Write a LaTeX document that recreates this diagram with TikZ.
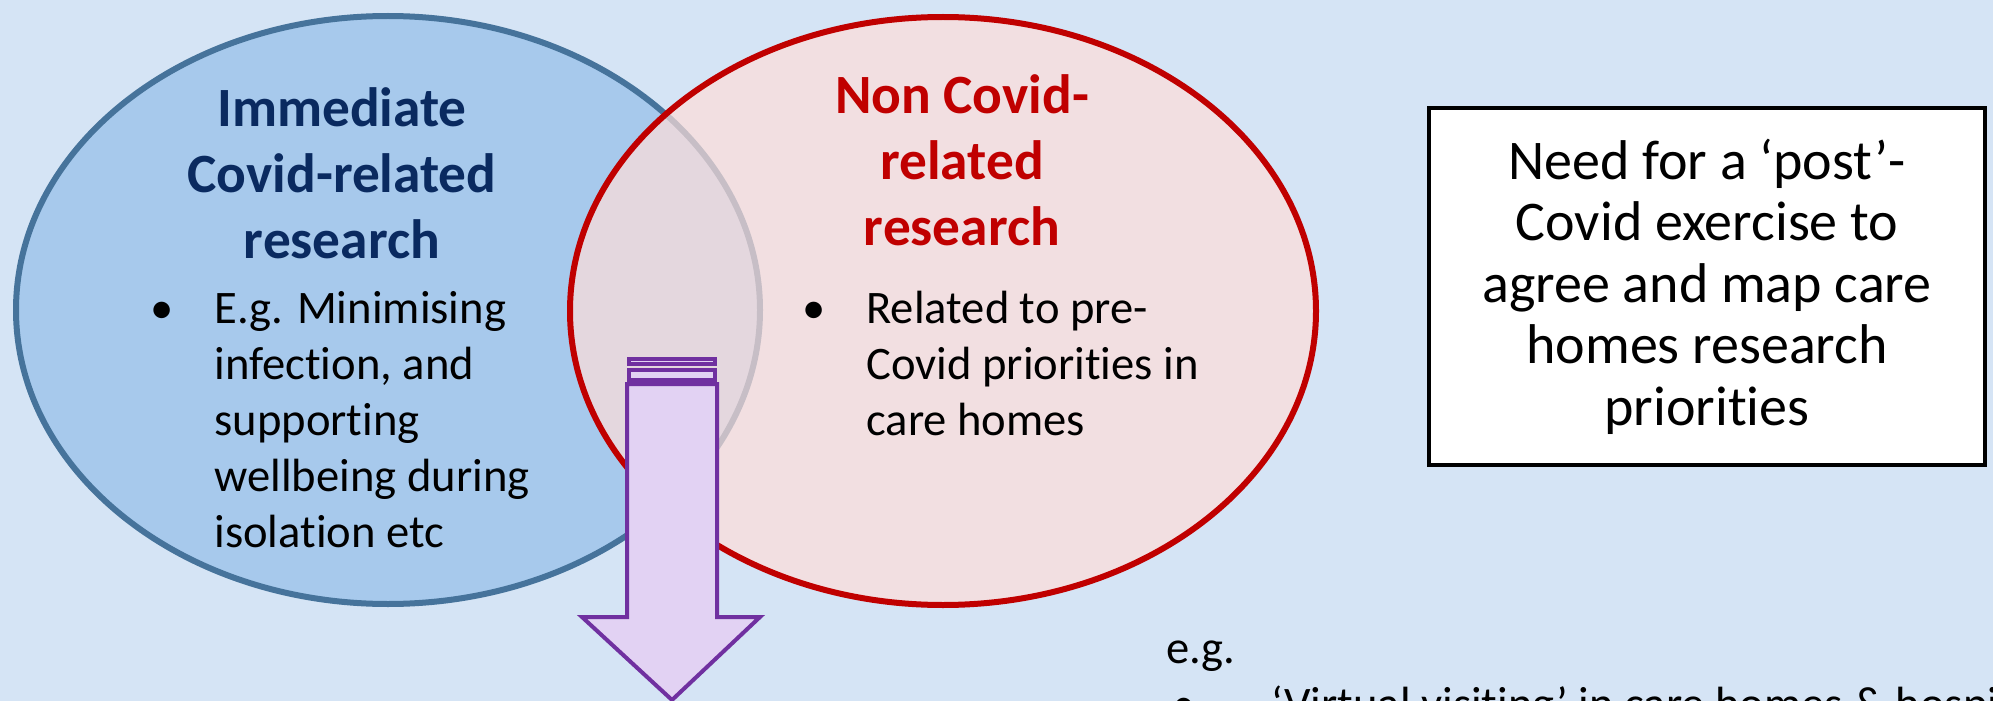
\documentclass[tikz,border=0pt]{standalone}
\usepackage{fontspec}
\setmainfont{Carlito}[Ligatures=NoCommon]
\definecolor{bgblue}{RGB}{213,228,245}
\definecolor{blobfill}{RGB}{167,201,236}
\definecolor{blobline}{RGB}{70,115,155}
\definecolor{navy}{RGB}{10,42,96}
\definecolor{darkred}{RGB}{192,0,0}
\definecolor{pinkfill}{RGB}{255,222,217}
\definecolor{purple}{RGB}{112,48,160}
\definecolor{lilac}{RGB}{226,210,243}
\begin{document}
\begin{tikzpicture}[x=0.5pt, y=-0.5pt,
  headtext/.style = {font=\bfseries\fontsize{27.7}{33}\selectfont, align=center, anchor=base, inner sep=0pt},
  bodytext/.style = {font=\fontsize{23.3}{28}\selectfont, align=left, anchor=base west, inner sep=0pt},
  notebox/.style = {draw=black, line width=2pt, fill=white, minimum width=278pt, minimum height=178.5pt,
    font=\fontsize{28}{30.75}\selectfont, align=center}]
  \useasboundingbox (0,0) rectangle (1993,701);
  \clip (0,0) rectangle (1993,701);
  \fill[bgblue] (0,0) rectangle (1993,701);

  % the two circles
  \filldraw[fill=blobfill, draw=blobline, line width=3pt] (388,310) ellipse [x radius=372, y radius=294];
  \fill[pinkfill, fill opacity=0.7] (943,311) ellipse [x radius=373, y radius=294];
  \draw[darkred, line width=3pt] (943,311) ellipse [x radius=373, y radius=294];

  % left circle
  \node[headtext, text=navy] (covid) at (342,258)
    {Immediate\\Covid-related\\research};
  \node[bodytext] (dotA) at (150,323) {•};
  \node[bodytext] (covidex) at (214,547)
    {E.g. Minimising\\infection, and\\supporting\\wellbeing during\\isolation etc};

  % right circle
  \node[headtext, text=darkred] (noncovid) at (962,245)
    {Non Covid-\\related\\research};
  \node[bodytext] (dotB) at (802,323) {•};
  \node[bodytext] (noncovidex) at (866,435)
    {Related to pre-\\Covid priorities in\\care homes};

  % arrow
  \filldraw[fill=lilac, draw=purple, line width=2pt]
    (627,384) -- (717,384) -- (717,617) -- (760,617) -- (672,700)
    -- (582,617) -- (627,617) -- cycle;
  \filldraw[fill=lilac, draw=purple, line width=2pt] (629,370) rectangle (715,380);
  \filldraw[fill=lilac, draw=purple, line width=2.2pt] (629,359) rectangle (715,364);

  % box
  \node[notebox] (postcovid) at (1707,286.5)
    {Need for a ‘post’-\\Covid exercise to\\agree and map care\\homes research\\priorities};

  % bottom text
  \node[bodytext] (eg) at (1166,663) {e.g.};
  \node[bodytext] (dotC) at (1172,719) {•};
  \node[bodytext] (visiting) at (1271,719) {‘Virtual visiting’ in care homes \& hospitals};
\end{tikzpicture}
\end{document}
